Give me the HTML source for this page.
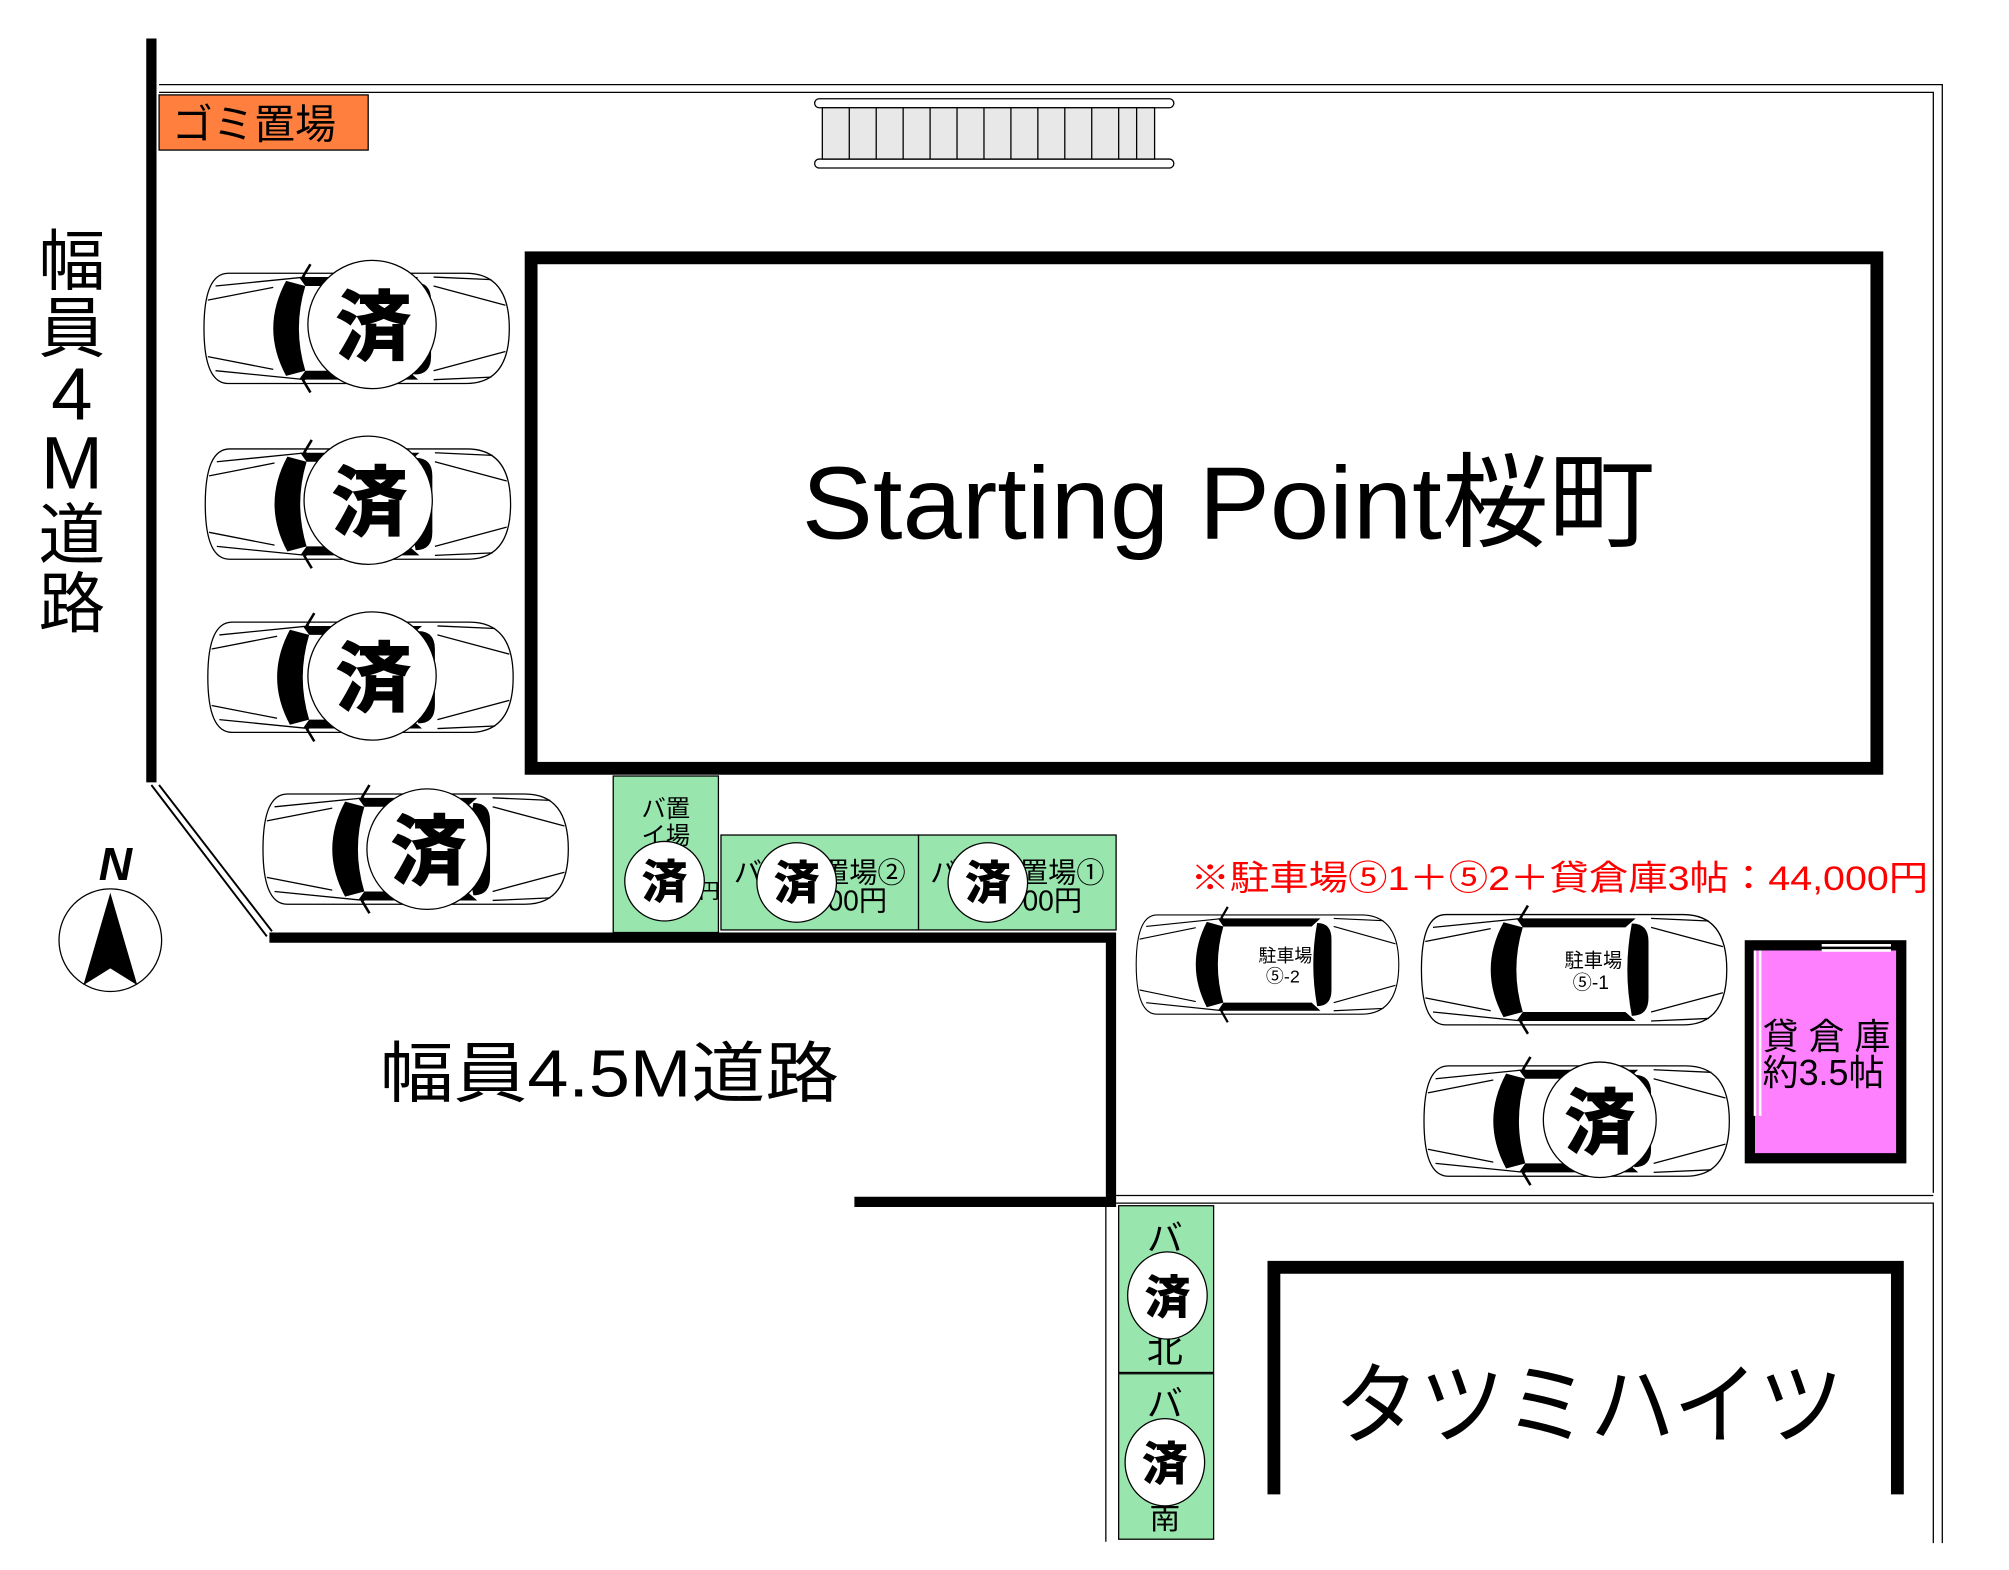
<!DOCTYPE html>
<html><head><meta charset="utf-8"><style>
html,body{margin:0;padding:0;background:#fff}
svg{display:block}
text{font-family:"Liberation Sans","Noto Sans CJK JP",sans-serif}
.k{font-family:"Noto Sans CJK JP","Liberation Sans",sans-serif;font-weight:900}
</style></head><body>
<svg width="2009" height="1570" viewBox="0 0 1566 1224" preserveAspectRatio="none" xmlns="http://www.w3.org/2000/svg">
<defs>
<g id="car">
 <path d="M-100,-43 L85,-43 Q119,-43 119,0 Q119,43 85,43 L-100,43 Q-119,43 -119,0 Q-119,-43 -100,-43Z" fill="#fff" stroke="#000" stroke-width="1"/>
 <path d="M-116,-22 L-65,-32 M-116,22 L-65,32 M-110,-33 L-40,-40 M-110,33 L-40,40 M60,-33 L116,-18 M60,33 L116,18 M60,-40 L105,-38 M60,40 L105,38" stroke="#000" stroke-width="1" fill="none"/>
 <path d="M-55,-37 Q-75,0 -55,37 L-40,33 Q-50,0 -40,-33Z" fill="#000"/>
 <path d="M45,-36 Q58,-36 58,-22 L58,22 Q58,36 45,36 Q38,0 45,-36Z" fill="#000"/>
 <path d="M-40,-33 L40,-33 L48,-40 L-45,-40Z M-40,33 L40,33 L48,40 L-45,40Z" fill="#000"/>
 <path d="M-42,-40 L-36,-50 M-42,40 L-36,50" stroke="#000" stroke-width="2"/>
</g>
</defs>
<g fill="none" stroke="#000" stroke-width="1">
 <path d="M124,66 H1514 V1203 M124,72 H1507 V930 M870,932 H1507 M870,938 H1507 V1203 M862,937 V1202"/>
</g>
<path d="M118,30 V610" stroke="#000" stroke-width="8"/>
<path d="M118,612 L208,730 M124,612 L212,726" stroke="#000" stroke-width="1.5"/>
<path d="M210,731 H866 V937 H666" stroke="#000" stroke-width="8" fill="none"/>
<rect x="124" y="74" width="163" height="43" fill="#ff7f3f" stroke="#000" stroke-width="1"/>
<text x="134" y="108" font-size="32">ゴミ置場</text>
<rect x="635" y="77" width="280" height="7" rx="3.5" fill="#fff" stroke="#000"/>
<rect x="635" y="124" width="280" height="7" rx="3.5" fill="#fff" stroke="#000"/>
<rect x="641" y="84" width="259" height="40" fill="#e8e8e8" stroke="#000"/>
<path d="M662,84V124M683,84V124M704,84V124M725,84V124M746,84V124M767,84V124M788,84V124M809,84V124M830,84V124M851,84V124M872,84V124M886,84V124" stroke="#000"/>
<rect x="414" y="201" width="1049" height="398" fill="#fff" stroke="#000" stroke-width="10"/>
<text x="625" y="420" font-size="80" textLength="665" lengthAdjust="spacingAndGlyphs">Starting Point桜町</text>
<g font-size="52" text-anchor="middle">
<text x="56" y="222">幅</text><text x="56" y="274">員</text><text x="56" y="327" font-size="58">4</text><text x="56" y="381" font-size="58">M</text><text x="56" y="435">道</text><text x="56" y="489">路</text>
</g>
<text x="296" y="855" font-size="52" textLength="358" lengthAdjust="spacingAndGlyphs">幅員4.5M道路</text>
<circle cx="86" cy="733" r="40" fill="#fff" stroke="#000"/>
<path d="M86,696 L107,768 L86,755 L65,768Z" fill="#000"/>
<text x="90" y="686" font-size="36" font-weight="bold" font-style="italic" font-family="Liberation Serif,serif" text-anchor="middle">N</text>
<use href="#car" x="278" y="256"/>
<use href="#car" x="279" y="393"/>
<use href="#car" x="281" y="528"/>
<use href="#car" x="324" y="662"/>
<g fill="#fff" stroke="#000">
<ellipse cx="290" cy="253" rx="50" ry="50"/><ellipse cx="287" cy="390" rx="50" ry="50"/><ellipse cx="290" cy="527" rx="50" ry="50"/><ellipse cx="333" cy="662" rx="47" ry="47"/>
</g>
<g class="k" font-size="60" text-anchor="middle">
<text x="291" y="276">済</text><text x="288" y="413">済</text><text x="291" y="550">済</text><text x="334" y="685">済</text>
</g>
<g fill="#98e6ae" stroke="#000">
<rect x="478" y="605" width="82" height="122"/>
<rect x="562" y="651" width="154" height="74"/>
<rect x="716" y="651" width="154" height="74"/>
</g>
<text x="500" y="637" font-size="19">バ置</text><text x="500" y="658" font-size="19">イ場</text>
<text x="545" y="700" font-size="16">円</text>
<text x="572" y="688" font-size="22">バ</text><text x="640" y="688" font-size="22">置場②</text><text x="645" y="710" font-size="22">00円</text>
<text x="725" y="688" font-size="22">バ</text><text x="795" y="688" font-size="22">置場①</text><text x="797" y="710" font-size="22">00円</text>
<g fill="#fff" stroke="#000"><circle cx="518" cy="687" r="31"/><circle cx="621" cy="688" r="31"/><circle cx="770" cy="688" r="31"/></g>
<g class="k" font-size="36" text-anchor="middle"><text x="518" y="700">済</text><text x="621" y="701">済</text><text x="770" y="701">済</text></g>
<text x="928" y="694" font-size="27" fill="#ff0000" textLength="575" lengthAdjust="spacingAndGlyphs">※駐車場⑤1＋⑤2＋貸倉庫3帖：44,000円</text>
<g transform="translate(988,752) scale(0.86,0.9)"><use href="#car"/></g>
<use href="#car" x="1227" y="756"/>
<use href="#car" x="1229" y="874"/>
<text x="1002" y="750" font-size="14" text-anchor="middle">駐車場</text><text x="1000" y="766" font-size="14" text-anchor="middle">⑤-2</text>
<text x="1242" y="754" font-size="15" text-anchor="middle">駐車場</text><text x="1240" y="771" font-size="15" text-anchor="middle">⑤-1</text>
<ellipse cx="1247" cy="873" rx="44" ry="45" fill="#fff" stroke="#000"/>
<text class="k" x="1247" y="895" font-size="56" text-anchor="middle">済</text>
<rect x="1364" y="737" width="118" height="166" fill="#ff80ff" stroke="#000" stroke-width="8"/>
<path d="M1368,741 V870 M1372,741 V870 M1420,741 H1474 M1420,737 H1474" stroke="#fff" stroke-width="2"/>
<text x="1374" y="818" font-size="28">貸 倉 庫</text>
<text x="1374" y="846" font-size="28">約3.5帖</text>
<g fill="#98e6ae" stroke="#000"><rect x="872" y="940" width="74" height="130"/><rect x="872" y="1071" width="74" height="129"/></g>
<text x="908" y="975" font-size="28" text-anchor="middle">バ</text><text x="908" y="1062" font-size="28" text-anchor="middle">北</text>
<text x="908" y="1104" font-size="28" text-anchor="middle">バ</text><text x="908" y="1192" font-size="24" text-anchor="middle">南</text>
<g fill="#fff" stroke="#000"><ellipse cx="910" cy="1010" rx="31" ry="34"/><ellipse cx="908" cy="1140" rx="31" ry="34"/></g>
<g class="k" font-size="36" text-anchor="middle"><text x="910" y="1024">済</text><text x="908" y="1154">済</text></g>
<path d="M993,1165 V988 H1479 V1165" fill="none" stroke="#000" stroke-width="10"/>
<text x="1040" y="1120" font-size="70" textLength="397" lengthAdjust="spacingAndGlyphs">タツミハイツ</text>
</svg>
</body></html>
